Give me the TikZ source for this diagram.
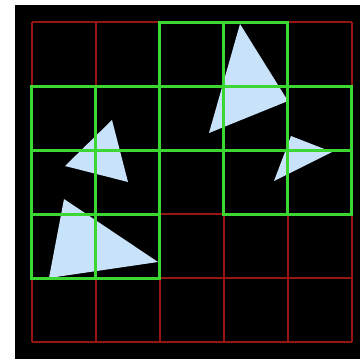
\documentclass[tikz,border=0pt]{standalone}
\usepackage{xcolor}
\usepackage{tikz}

\definecolor{gridred}{RGB}{150,22,22}
\definecolor{tilegreen}{RGB}{60,215,50}
\definecolor{trifill}{RGB}{200,226,250}

\begin{document}
\begin{tikzpicture}[
  x=1pt, y=-1pt,
  tile/.style={draw=gridred, line width=1.5pt},
  hit/.style={draw=tilegreen, line width=3pt},
  tri/.style={fill=trifill}
]
\useasboundingbox (0,0) rectangle (360,359);
\fill[black] (15,5) rectangle (360,359);

% coarse 5x5 tile grid
\foreach \i in {0,...,5} {
  \draw[tile] (32+64*\i,22) -- (32+64*\i,342);
  \draw[tile] (32,22+64*\i) -- (352,22+64*\i);
}

% triangles
\fill[tri] (240,24) -- (288,101) -- (209,133) -- cycle;
\fill[tri] (112,120) -- (128,182) -- (65,166) -- cycle;
\fill[tri] (64,199) -- (158,262) -- (49,278) -- cycle;
\fill[tri] (291,136) -- (332,152) -- (274,181) -- cycle;

% tiles touched by a triangle
\foreach \c/\r in {2/0,3/0,0/1,1/1,2/1,3/1,4/1,0/2,1/2,3/2,4/2,0/3,1/3}
  \draw[hit] (32+64*\c,22+64*\r) rectangle ++(64,64);
\end{tikzpicture}
\end{document}
